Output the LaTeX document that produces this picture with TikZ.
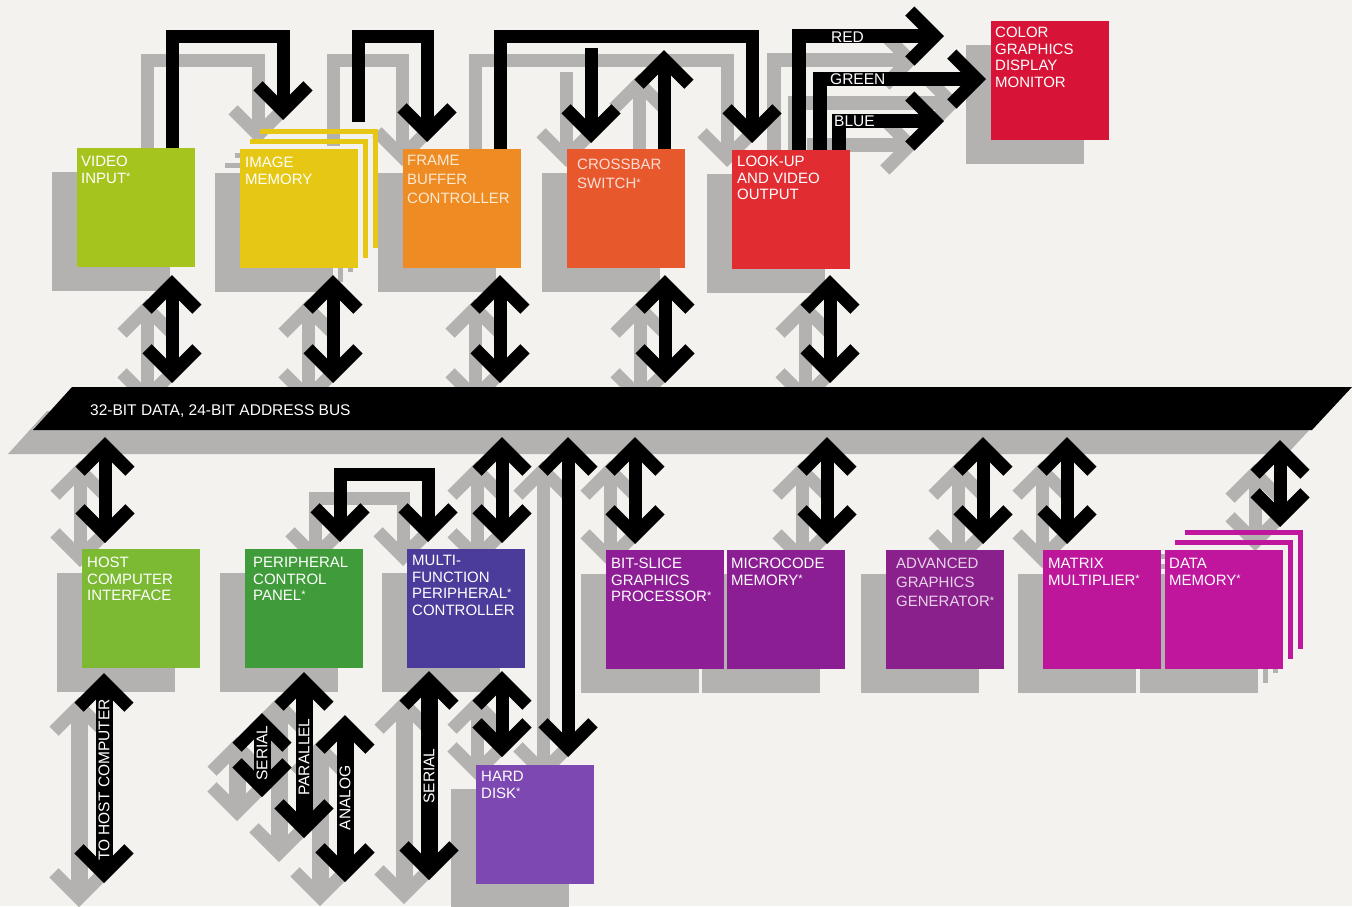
\documentclass[tikz,border=0pt]{standalone}
\usepackage{fontspec}
\setmainfont{Liberation Sans}
\usetikzlibrary{calc}
\pgfdeclarelayer{bgl}
\pgfdeclarelayer{shad}
\pgfsetlayers{bgl,shad,main}
\definecolor{bgc}{HTML}{F4F2EE}
\definecolor{shd}{HTML}{B3B2B0}
\definecolor{cvid}{HTML}{A6C41E}
\definecolor{cimem}{HTML}{E6C814}
\definecolor{cfbc}{HTML}{EE8C23}
\definecolor{cxbar}{HTML}{E8582D}
\definecolor{clut}{HTML}{E12D32}
\definecolor{cmon}{HTML}{D71437}
\definecolor{chost}{HTML}{7CBA34}
\definecolor{cpcp}{HTML}{409C3A}
\definecolor{cmfpc}{HTML}{4B3C9B}
\definecolor{chd}{HTML}{7D48B2}
\definecolor{cbsp}{HTML}{8E1E96}
\definecolor{cmcm}{HTML}{8C1E94}
\definecolor{cagg}{HTML}{8A208C}
\definecolor{cmm}{HTML}{BE169B}
\definecolor{cdm}{HTML}{C0169E}
\colorlet{conn}{black}
\newcommand\st{\raisebox{2.5pt}{\fontsize{11}{11}\selectfont *}}
\tikzset{
  box/.style={anchor=north west, inner sep=0pt, outer sep=0pt, minimum width=118pt, minimum height=119pt, fill=#1},
  lbl/.style={anchor=north west, inner sep=0pt, align=left, text=white, font=\fontsize{15}{16.5}\selectfont},
  lbll/.style={anchor=north west, inner sep=0pt, align=left, text=#1, font=\fontsize{15}{19}\selectfont},
  hlbl/.style={inner sep=0pt, text=white, font=\fontsize{15.5}{16}\selectfont},
  vlbl/.style={inner sep=0pt, text=white, rotate=90, font=\fontsize{15.5}{16}\selectfont},
  shaft/.style={draw=conn, line width=13pt, line cap=butt, line join=miter},
  lshaft/.style={draw=conn, line width=17pt, line cap=butt, line join=miter},
  rgbshaft/.style={draw=conn, line width=14pt, line cap=butt, line join=miter},
  chevline/.style={draw=conn, line width=13pt, line cap=butt, line join=miter},
  chev/.pic={\draw[chevline] (-34.2,-25) -- (-9.2,0) -- (-34.2,25);}
}
\newcommand\dblv[3][shaft]{%
  \draw[#1, shorten <=9.2pt, shorten >=9.2pt] #2 -- #3;
  \pic[rotate=90] at #2 {chev};
  \pic[rotate=-90] at #3 {chev};}
\newcommand\stackfr[2]{%
  \fill[#2] ($(#1.north west)+(10,-10)$) rectangle ($(#1.north east)+(10,-5)$);
  \fill[#2] ($(#1.north east)+(5,-10)$) rectangle ($(#1.south east)+(10,-10)$);
  \fill[#2] ($(#1.north west)+(20,-20)$) rectangle ($(#1.north east)+(20,-15)$);
  \fill[#2] ($(#1.north east)+(15,-20)$) rectangle ($(#1.south east)+(20,-20)$);}
\newcommand\conns{%
  % bus
  \fill[conn] (72,387) -- (1352,387) -- (1312,430) -- (33,430) -- cycle;
  % top loop arrows
  \draw[shaft, shorten >=9.2pt] ($(vid.north west)+(95,0)$) |- ($(imem.north west)+(43,-113)$) -- ($(imem.north west)+(43,-29)$);
  \pic[rotate=-90] at ($(imem.north west)+(43,-29)$) {chev};
  \draw[shaft, shorten >=9.2pt] ($(imem.north west)+(118,-27)$) |- ($(fbc.north west)+(24,-113)$) -- ($(fbc.north west)+(24,-7)$);
  \pic[rotate=-90] at ($(fbc.north west)+(24,-7)$) {chev};
  \draw[shaft, shorten >=9.2pt] ($(fbc.north west)+(97,0)$) |- ($(lut.north west)+(20,-114)$) -- ($(lut.north west)+(20,-7)$);
  \pic[rotate=-90] at ($(lut.north west)+(20,-7)$) {chev};
  \draw[shaft, shorten >=9.2pt] ($(xbar.north west)+(24,-101)$) -- ($(xbar.north west)+(24,-6)$);
  \pic[rotate=-90] at ($(xbar.north west)+(24,-6)$) {chev};
  \draw[shaft, shorten >=9.2pt] ($(xbar.north west)+(97,0)$) -- ($(xbar.north west)+(97,-99)$);
  \pic[rotate=90] at ($(xbar.north west)+(97,-99)$) {chev};
  % red green blue
  \draw[rgbshaft, shorten >=9.2pt] ($(lut.north west)+(67,0)$) |- ($(mon.north west)+(-47,15)$);
  \pic at ($(mon.north west)+(-47,15)$) {chev};
  \draw[rgbshaft, shorten >=9.2pt] ($(lut.north west)+(88,0)$) |- ($(mon.north west)+(-5,58)$);
  \pic at ($(mon.north west)+(-5,58)$) {chev};
  \draw[rgbshaft, shorten >=9.2pt] ($(lut.north west)+(107,0)$) |- ($(mon.north west)+(-47,100)$);
  \pic at ($(mon.north west)+(-47,100)$) {chev};
  % top row to bus
  \dblv{($(vid.north west)+(95,127)$)}{($(vid.north west)+(95,235)$)}
  \dblv{($(imem.north west)+(93,126)$)}{($(imem.north west)+(93,234)$)}
  \dblv{($(fbc.north west)+(97,126)$)}{($(fbc.north west)+(97,234)$)}
  \dblv{($(xbar.north west)+(98,126)$)}{($(xbar.north west)+(98,234)$)}
  \dblv{($(lut.north west)+(98,125)$)}{($(lut.north west)+(98,233)$)}
  % bus to bottom row
  \dblv{($(host.north west)+(23,-112)$)}{($(host.north west)+(23,-6)$)}
  \dblv{($(mfpc.north west)+(95,-112)$)}{($(mfpc.north west)+(95,-6)$)}
  \dblv{($(bsp.north west)+(29,-113)$)}{($(bsp.north west)+(29,-6)$)}
  \dblv{($(mcm.north west)+(100,-113)$)}{($(mcm.north west)+(100,-6)$)}
  \dblv{($(agg.north west)+(97,-113)$)}{($(agg.north west)+(97,-6)$)}
  \dblv{($(mm.north west)+(24,-113)$)}{($(mm.north west)+(24,-6)$)}
  \dblv{($(dm.north west)+(115,-110)$)}{($(dm.north west)+(115,-23)$)}
  \dblv{($(hd.north west)+(92,-328)$)}{($(hd.north west)+(92,-8)$)}
  % peripheral loop
  \draw[shaft, shorten <=9.2pt, shorten >=9.2pt] ($(pcp.north west)+(95,-7)$) |- ($(mfpc.north west)+(21,-75)$) -- ($(mfpc.north west)+(21,-7)$);
  \pic[rotate=-90] at ($(pcp.north west)+(95,-7)$) {chev};
  \pic[rotate=-90] at ($(mfpc.north west)+(21,-7)$) {chev};
  % lower arrows
  \dblv[lshaft]{($(host.north west)+(22,124)$)}{($(host.north west)+(22,334)$)}
  \dblv[lshaft]{($(pcp.north west)+(17,164)$)}{($(pcp.north west)+(17,248)$)}
  \dblv[lshaft]{($(pcp.north west)+(59,123)$)}{($(pcp.north west)+(59,289)$)}
  \dblv[lshaft]{($(pcp.north west)+(100,166)$)}{($(pcp.north west)+(100,333)$)}
  \dblv[lshaft]{($(mfpc.north west)+(22,122)$)}{($(mfpc.north west)+(22,331)$)}
  \dblv{($(mfpc.north west)+(95,122)$)}{($(hd.north west)+(26,-8)$)}
}
\begin{document}
\begin{tikzpicture}[x=1pt,y=-1pt]
\useasboundingbox (0,0) rectangle (1352,906);
% boxes
\node[box=cvid] (vid) at (77,148) {};
\node[box=cimem] (imem) at (240,149) {};
\node[box=cfbc] (fbc) at (403,149) {};
\node[box=cxbar] (xbar) at (567,149) {};
\node[box=clut] (lut) at (732,150) {};
\node[box=cmon] (mon) at (991,21) {};
\node[box=chost] (host) at (82,549) {};
\node[box=cpcp] (pcp) at (245,549) {};
\node[box=cmfpc] (mfpc) at (407,549) {};
\node[box=chd] (hd) at (476,765) {};
\node[box=cbsp] (bsp) at (606,550) {};
\node[box=cmcm] (mcm) at (727,550) {};
\node[box=cagg] (agg) at (886,550) {};
\node[box=cmm] (mm) at (1043,550) {};
\node[box=cdm] (dm) at (1165,550) {};
\begin{pgfonlayer}{bgl}
  \fill[bgc] (0,0) rectangle (1352,906);
\end{pgfonlayer}
\begin{pgfonlayer}{shad}
  \begin{scope}[transform canvas={shift={(-25,24)}}]
    \colorlet{conn}{shd}
    \foreach \n in {vid,imem,fbc,xbar,lut,mon,host,pcp,mfpc,hd,bsp,mcm,agg,mm,dm}
      \fill[shd] (\n.north west) rectangle (\n.south east);
    \stackfr{imem}{shd}
    \stackfr{dm}{shd}
    \conns
  \end{scope}
\end{pgfonlayer}
\stackfr{imem}{cimem}
\stackfr{dm}{cdm}
\conns
% box labels
\node[lbl] (vidT) at ($(vid.north west)+(4,8)$) {VIDEO\\INPUT\st};
\node[lbl] (imemT) at ($(imem.north west)+(5,8)$) {IMAGE\\MEMORY};
\node[lbll=white!80!cfbc] (fbcT) at ($(fbc.north west)+(4,6)$) {FRAME\\BUFFER\\CONTROLLER};
\node[lbll=white!80!cxbar] (xbarT) at ($(xbar.north west)+(10,10)$) {CROSSBAR\\SWITCH\st};
\node[lbl] (lutT) at ($(lut.north west)+(5,6)$) {LOOK-UP\\AND VIDEO\\OUTPUT};
\node[lbl] (monT) at ($(mon.north west)+(4,6)$) {COLOR\\GRAPHICS\\DISPLAY\\MONITOR};
\node[lbl] (hostT) at ($(host.north west)+(5,8)$) {HOST\\COMPUTER\\INTERFACE};
\node[lbl] (pcpT) at ($(pcp.north west)+(8,8)$) {PERIPHERAL\\CONTROL\\PANEL\st};
\node[lbl] (mfpcT) at ($(mfpc.north west)+(5,6)$) {MULTI-\\FUNCTION\\PERIPHERAL\st\\CONTROLLER};
\node[lbl] (hdT) at ($(hd.north west)+(5,6)$) {HARD\\DISK\st};
\node[lbl] (bspT) at ($(bsp.north west)+(5,8)$) {BIT-SLICE\\GRAPHICS\\PROCESSOR\st};
\node[lbl] (mcmT) at ($(mcm.north west)+(4,8)$) {MICROCODE\\MEMORY\st};
\node[lbll=white!80!cagg] (aggT) at ($(agg.north west)+(10,8)$) {ADVANCED\\GRAPHICS\\GENERATOR\st};
\node[lbl] (mmT) at ($(mm.north west)+(5,8)$) {MATRIX\\MULTIPLIER\st};
\node[lbl] (dmT) at ($(dm.north west)+(4,8)$) {DATA\\MEMORY\st};
% connector labels
\node[hlbl, anchor=base west] (busT) at (90,415.5) {32-BIT DATA, 24-BIT ADDRESS BUS};
\node[hlbl, anchor=base west] (redT) at ($(lut.north west)+(99,-107.5)$) {RED};
\node[hlbl, anchor=base west] (greenT) at ($(lut.north west)+(98,-65.5)$) {GREEN};
\node[hlbl, anchor=base west] (blueT) at ($(lut.north west)+(102,-23.5)$) {BLUE};
\node[vlbl] (hostL) at ($(host.north west)+(22,231)$) {TO HOST COMPUTER};
\node[vlbl] (serL) at ($(pcp.north west)+(17,204)$) {SERIAL};
\node[vlbl] (parL) at ($(pcp.north west)+(59,208)$) {PARALLEL};
\node[vlbl] (anaL) at ($(pcp.north west)+(100,249)$) {ANALOG};
\node[vlbl] (ser2L) at ($(mfpc.north west)+(22,227)$) {SERIAL};
\end{tikzpicture}
\end{document}
